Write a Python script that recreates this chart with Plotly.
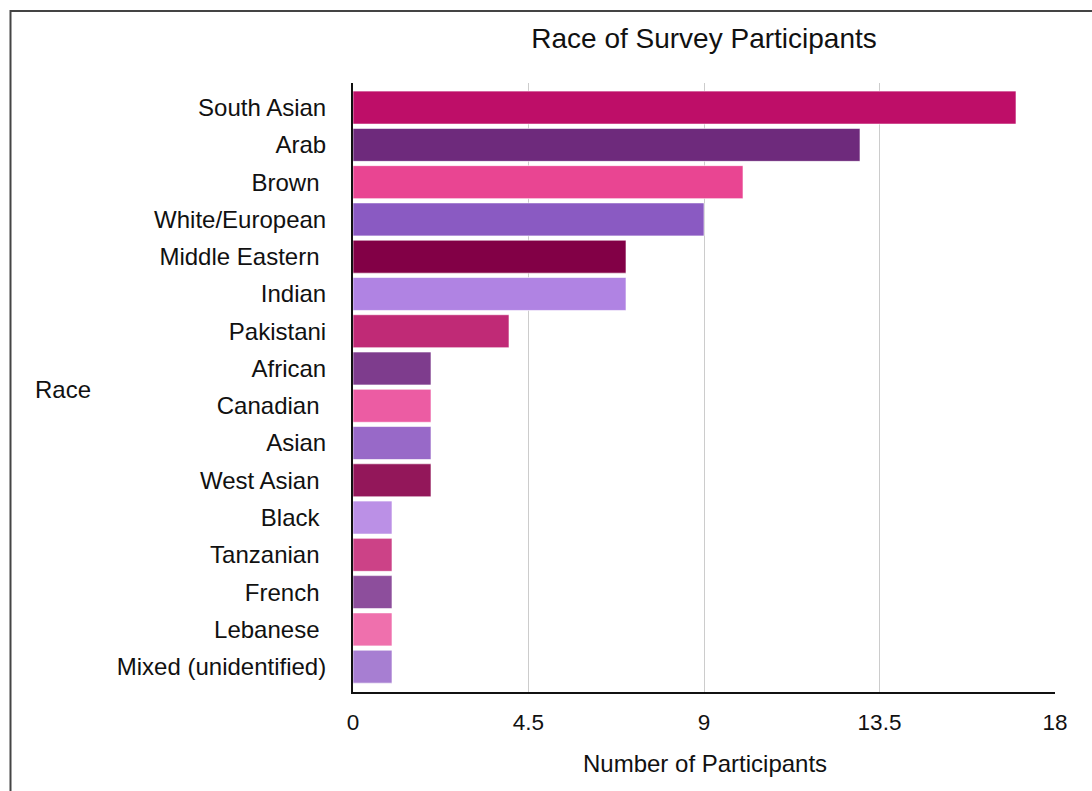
import plotly.graph_objects as go

# Survey responses: self-identified race and number of participants
races = [
    "South Asian", "Arab", "Brown ", "White/European", "Middle Eastern ",
    "Indian", "Pakistani", "African", "Canadian ", "Asian", "West Asian ",
    "Black ", "Tanzanian ", "French ", "Lebanese ", "Mixed (unidentified)",
]
participants = [17, 13, 10, 9, 7, 7, 4, 2, 2, 2, 2, 1, 1, 1, 1, 1]
bar_colors = [
    "#BE0E68", "#6E2A7C", "#E94592", "#8A5AC2", "#820046", "#B083E3",
    "#C02A76", "#7E3C8D", "#EC5CA3", "#9869C8", "#93175A", "#BB90E6",
    "#CC4287", "#8D4E9C", "#EF70AD", "#A77ED2",
]
x_ticks = [0, 4.5, 9, 13.5, 18]
x_tick_text = ["0", "4.5", "9", "13.5", "18"]

W, H = 1092, 791
L, R, T, B = 353, 37, 83, 99
pw, ph = W - L - R, H - T - B


def px(x):
    return (x - L) / pw


def py(y):
    return (H - B - y) / ph


FONT = "Liberation Sans, Arial, Helvetica, sans-serif"

fig = go.Figure(
    go.Bar(
        x=participants,
        y=races,
        orientation="h",
        marker=dict(color=bar_colors, line=dict(color="rgba(255,255,255,0.6)", width=1)),
        hoverinfo="x+y",
    )
)

fig.update_layout(
    width=W,
    height=H,
    margin=dict(l=L, r=R, t=T, b=B),
    paper_bgcolor="white",
    plot_bgcolor="white",
    showlegend=False,
    bargap=0.115,
    font=dict(family=FONT, color="#111111", size=24),
    title=dict(
        text="Race of Survey Participants",
        x=px(704), xref="paper", xanchor="center",
        y=1 - 38 / H, yref="container", yanchor="middle",
        font=dict(size=28, color="#111111"),
    ),
    xaxis=dict(
        range=[0, 18],
        tickvals=x_ticks,
        ticktext=x_tick_text,
        showgrid=True,
        gridcolor="#CCCCCC",
        gridwidth=1,
        zeroline=False,
        showline=True,
        linecolor="#111111",
        linewidth=2,
        ticks="",
        ticklabelstandoff=9,
        tickfont=dict(size=22.5),
        fixedrange=True,
    ),
    yaxis=dict(
        type="category",
        range=[15.68, -0.66],
        showgrid=False,
        zeroline=False,
        showline=True,
        linecolor="#111111",
        linewidth=2,
        ticks="",
        ticklabelstandoff=20,
        tickfont=dict(size=24),
        fixedrange=True,
    ),
    annotations=[
        dict(text="Race", x=px(33), y=py(390), xref="paper", yref="paper",
             xanchor="left", yanchor="middle", showarrow=False, font=dict(size=24)),
        dict(text="Number of Participants", x=px(705), y=py(763), xref="paper", yref="paper",
             xanchor="center", yanchor="middle", showarrow=False, font=dict(size=24)),
    ],
    shapes=[
        dict(type="rect", xref="paper", yref="paper",
             x0=px(10.5), x1=px(W + 20), y0=py(11), y1=py(H + 20),
             line=dict(color="#444444", width=2), fillcolor="rgba(0,0,0,0)", layer="above"),
    ],
)

fig.write_html("out.html")
